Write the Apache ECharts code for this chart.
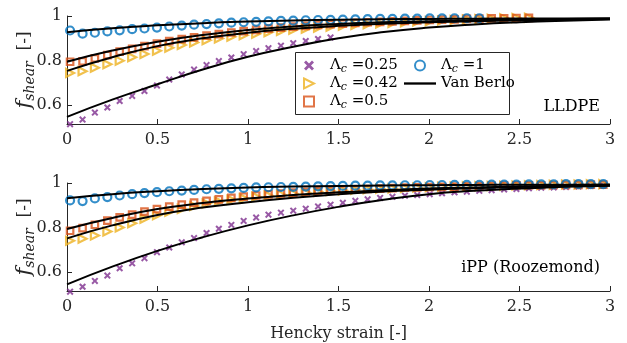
<!DOCTYPE html>
<html><head><meta charset="utf-8">
<script src="https://cdn.jsdelivr.net/npm/echarts@6/dist/echarts.min.js"></script>
<style>html,body{margin:0;padding:0;background:#fff}#c{width:627px;height:343px}</style>
</head><body><div id="c"></div>
<script>
// ---- data ----
const strainX = [0.017,0.086,0.154,0.223,0.291,0.36,0.428,0.497,0.565,0.634,0.702,0.771,0.839,0.908,0.976,1.045,1.113,1.182,1.25,1.319,1.387,1.456,1.524,1.593,1.661,1.73,1.798,1.867,1.935,2.004,2.072,2.141,2.209,2.278,2.346,2.415,2.483,2.552,2.62,2.689,2.757,2.826,2.894,2.963];
const lambdaLabels = ['0.25','0.42','0.5','1'];
const xTicks = [0,0.5,1,1.5,2,2.5,3];
const yTicks = [0.6,0.8,1];
const curveX = [0,0.25,0.5,0.75,1,1.25,1.5,1.75,2,2.25,2.5,2.75,3];

// LLDPE (top)
const lldpe025 = [.515,.536,.567,.590,.619,.642,.664,.688,.715,.738,.760,.780,.798,.814,.829,.843,.856,.867,.878,.888,.897,.904];
const lldpe042 = [.745,.752,.768,.784,.800,.815,.830,.844,.858,.870,.881,.891,.899,.907,.914,.921,.927,.933,.938,.943,.948,.952,.956,.960,.963,.966,.969,.972,.975,.977,.980,.982,.984,.986,.988,.990,.991,.992];
const lldpe05  = [.795,.797,.810,.825,.840,.853,.865,.876,.887,.896,.904,.912,.919,.926,.932,.938,.943,.948,.952,.956,.960,.963,.966,.969,.972,.974,.976,.978,.980,.982,.984,.985,.987,.988,.989,.990,.991,.992];
const lldpe1   = [.935,.921,.925,.931,.936,.941,.944,.948,.953,.957,.961,.964,.967,.970,.972,.974,.976,.978,.979,.981,.982,.983,.984,.985,.986,.987,.987,.988,.988,.989,.989,.990,.990,.990];
const lldpeVB025 = [.548,.625,.694,.760,.817,.862,.900,.928,.948,.962,.972,.979,.984];
const lldpeVB042 = [.754,.815,.865,.900,.925,.943,.956,.965,.972,.977,.981,.984,.987];
const lldpeVB05  = [.795,.845,.885,.915,.937,.953,.964,.972,.977,.981,.984,.986,.988];
const lldpeVB1   = [.927,.945,.958,.968,.975,.980,.983,.985,.987,.988,.989,.989,.990];

// iPP (bottom)
const ipp025 = [.513,.535,.561,.585,.618,.640,.663,.690,.711,.734,.753,.776,.795,.812,.830,.845,.858,.867,.876,.885,.895,.903,.911,.920,.927,.933,.938,.943,.946,.950,.954,.958,.961,.965,.968,.971,.973,.976,.979,.980,.982,.984,.986,.989];
const ipp042 = [.741,.750,.765,.783,.801,.820,.840,.856,.871,.884,.897,.908,.917,.925,.932,.938,.944,.949,.953,.957,.961,.964,.967,.970,.972,.974,.976,.978,.980,.981,.983,.984,.985,.986,.987,.988,.989,.990,.991,.992,.993,.993,.994,.995];
const ipp05  = [.786,.798,.813,.831,.846,.858,.872,.883,.894,.903,.912,.920,.927,.933,.939,.944,.949,.953,.957,.960,.963,.966,.969,.971,.973,.975,.977,.979,.980,.982,.983,.984,.985,.986,.987,.988,.989,.990,.990,.991,.992,.992,.993,.993];
const ipp1   = [.922,.919,.931,.937,.944,.950,.955,.959,.963,.966,.969,.972,.974,.976,.978,.980,.981,.982,.983,.984,.985,.986,.987,.988,.988,.989,.989,.990,.990,.991,.991,.992,.992,.992,.993,.993,.993,.994,.994,.994,.995,.995,.995,.995];
const ippVB025 = [.546,.625,.696,.757,.810,.855,.893,.925,.950,.965,.975,.983,.988];
const ippVB042 = [.752,.810,.857,.890,.914,.934,.950,.962,.970,.977,.982,.986,.989];
const ippVB05  = [.794,.843,.883,.910,.930,.946,.958,.967,.975,.980,.984,.987,.990];
const ippVB1   = [.932,.950,.963,.973,.980,.984,.987,.989,.990,.991,.992,.992,.993];

// ---- styles ----
const FONT = 'DejaVu Serif';
const FS = 16;
const AX = '#262626';
const COLORS = ['#7E2F8E','#EDB120','#D95319','#0072BD'];
const SYMBOLS = [
  'path://M0,2 L2,0 L5,3 L8,0 L10,2 L7,5 L10,8 L8,10 L5,7 L2,10 L0,8 L3,5 Z',
  'path://M0,0 L10,5 L0,10 Z',
  'path://M0,0 L10,0 L10,10 L0,10 Z',
  'circle'
];
const SIZES = [7, 8, 6.5, 8];
const names = lambdaLabels.map(l => 'Λc =' + l);

function pts(xs, ys){ return ys.map((y,i)=>[xs[i], y]); }

function scatter(idx, vals, axis){
  const filled = idx === 0;
  return {
    type:'scatter', name:names[idx], xAxisIndex:axis, yAxisIndex:axis, clip:false,
    data: pts(strainX, vals), symbol:SYMBOLS[idx], symbolSize:SIZES[idx],
    itemStyle: filled ? {color:COLORS[idx], borderWidth:0}
                      : {color:'rgba(255,255,255,0)', borderColor:COLORS[idx], borderWidth:2.2},
    z: 2
  };
}
function vb(vals, axis){
  return {type:'line', name:'Van Berlo', xAxisIndex:axis, yAxisIndex:axis,
    data: pts(curveX, vals), smooth:true, symbol:'none',
    lineStyle:{color:'#000', width:2}, itemStyle:{color:'#000'}, z:3};
}

const series = [
  scatter(0, lldpe025, 0), scatter(1, lldpe042, 0), scatter(2, lldpe05, 0), scatter(3, lldpe1, 0),
  vb(lldpeVB025,0), vb(lldpeVB042,0), vb(lldpeVB05,0), vb(lldpeVB1,0),
  scatter(0, ipp025, 1), scatter(1, ipp042, 1), scatter(2, ipp05, 1), scatter(3, ipp1, 1),
  vb(ippVB025,1), vb(ippVB042,1), vb(ippVB05,1), vb(ippVB1,1)
];

function xAxis(i, withName){
  return {type:'value', gridIndex:i, min:0, max:3, interval:0.5,
    axisLine:{lineStyle:{color:AX, width:1}},
    axisTick:{inside:true, length:5, lineStyle:{color:AX}},
    axisLabel:{color:AX, fontFamily:FONT, fontSize:FS, margin:8, customValues:xTicks},
    splitLine:{show:false},
    name: withName ? 'Hencky strain [-]' : '', nameLocation:'middle', nameGap:35, nameMoveOverlap:false,
    nameTextStyle:{color:AX, fontFamily:FONT, fontSize:FS}
  };
}
function yAxis(i){
  return {type:'value', gridIndex:i, min:0.516, max:1,
    axisLine:{lineStyle:{color:AX, width:1}},
    axisTick:{inside:true, length:5, lineStyle:{color:AX}, customValues:yTicks},
    axisLabel:{color:AX, fontFamily:FONT, fontSize:FS, margin:5, customValues:yTicks},
    splitLine:{show:false},
    name:'{f|f}{s|shear}{n|  [-]}', nameLocation:'middle', nameGap:30, nameRotate:90, nameMoveOverlap:false,
    nameTextStyle:{color:AX, fontFamily:FONT,
      rich:{
        f:{fontFamily:FONT, fontStyle:'italic', fontSize:21, color:AX, lineHeight:24},
        s:{fontFamily:FONT, fontStyle:'italic', fontSize:14, color:AX, verticalAlign:'bottom', lineHeight:16},
        n:{fontFamily:FONT, fontSize:17, color:AX, lineHeight:24}
      }}
  };
}

const legRich = {
  a:{fontFamily:FONT, fontSize:15, color:'#000', lineHeight:19},
  c:{fontFamily:FONT, fontStyle:'italic', fontSize:11, color:'#000', verticalAlign:'bottom', lineHeight:12}
};
function legFmt(n){
  if (n.indexOf('Λc') === 0) return '{a|Λ}{c|c}{a|' + n.slice(2) + '}';
  return '{a|' + n + '}';
}
const vbIcon = 'path://M0,0 L33,0 L33,2.4 L0,2.4 Z';

const option = {
  animation:false,
  grid:[{left:67, top:16, width:543, height:108, outerBoundsMode:'none'},
        {left:67, top:183, width:543, height:108, outerBoundsMode:'none'}],
  xAxis:[xAxis(0,false), xAxis(1,true)],
  yAxis:[yAxis(0), yAxis(1)],
  legend:[
    {data:[names[0],names[1],names[2]], orient:'vertical', left:298, top:53, itemWidth:32, itemHeight:10, itemGap:1,
     formatter:legFmt, textStyle:{rich:legRich}, z:10, selectedMode:false},
    {data:[names[3],{name:'Van Berlo', icon:vbIcon}], orient:'vertical', left:399, top:53, itemWidth:32, itemHeight:10, itemGap:1,
     formatter:legFmt, textStyle:{rich:legRich}, z:10, selectedMode:false}
  ],
  graphic:[
    {type:'rect', shape:{x:295.5, y:52.5, width:214, height:62}, style:{fill:'#fff', stroke:AX, lineWidth:1}, z:5},
    {type:'text', x:600, y:107, style:{text:'LLDPE', font:FS+'px "DejaVu Serif"', fill:'#000', align:'right', verticalAlign:'middle'}, z:6},
    {type:'text', x:600, y:268, style:{text:'iPP (Roozemond)', font:FS+'px "DejaVu Serif"', fill:'#000', align:'right', verticalAlign:'middle'}, z:6}
  ],
  series
};
echarts.init(document.getElementById('c')).setOption(option);
</script></body></html>
